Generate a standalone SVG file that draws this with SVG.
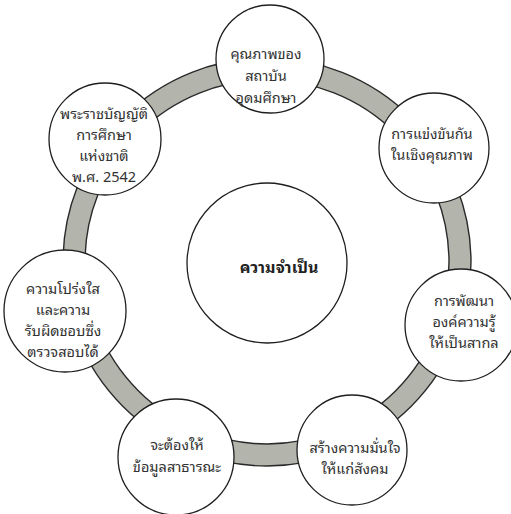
<svg xmlns="http://www.w3.org/2000/svg" width="511" height="514" viewBox="0 0 511 514">
<style>
.band{fill:none;stroke:#b3b5ac;stroke-width:22}
.edge{fill:none;stroke:#2a2a2a;stroke-width:1.4}
.node{fill:#ffffff;stroke:#1e1e1e;stroke-width:1.3}
text{font-family:"Noto Sans Thai Looped","Noto Sans Thai","Noto Sans","DejaVu Sans",sans-serif;font-size:14.5px;fill:#333;text-anchor:middle}
.c{font-weight:bold;font-size:16px;fill:#222}
</style>
<rect width="511" height="514" fill="#ffffff"/>
<g id="connectors">
<circle class="band" cx="267" cy="262" r="193"/>
<circle class="edge" cx="267" cy="262" r="182"/>
<circle class="edge" cx="267" cy="262" r="204"/>
</g>
<g id="center">
<circle class="node" cx="267" cy="263" r="80"/>
<text class="c" x="279" y="273">ความจำเป็น</text>
</g>
<g id="n1">
<circle class="node" cx="270" cy="59" r="54"/>
<text x="266" y="59">คุณภาพของ</text>
<text x="266" y="81">สถาบัน</text>
<text x="266" y="103">อุดมศึกษา</text>
</g>
<g id="n2">
<circle class="node" cx="434" cy="148" r="55"/>
<text x="432" y="139">การแข่งขันกัน</text>
<text x="432" y="160">ในเชิงคุณภาพ</text>
</g>
<g id="n3">
<circle class="node" cx="461" cy="325" r="56"/>
<text x="464" y="306">การพัฒนา</text>
<text x="464" y="327">องค์ความรู้</text>
<text x="464" y="348">ให้เป็นสากล</text>
</g>
<g id="n4">
<circle class="node" cx="352" cy="450" r="55"/>
<text x="355" y="453">สร้างความมั่นใจ</text>
<text x="355" y="474">ให้แก่สังคม</text>
</g>
<g id="n5">
<circle class="node" cx="176" cy="457" r="58"/>
<text x="177" y="450">จะต้องให้</text>
<text x="177" y="472">ข้อมูลสาธารณะ</text>
</g>
<g id="n6">
<circle class="node" cx="65" cy="311" r="61"/>
<text x="63" y="294">ความโปร่งใส</text>
<text x="63" y="315">และความ</text>
<text x="63" y="336">รับผิดชอบซึ่ง</text>
<text x="63" y="357">ตรวจสอบได้</text>
</g>
<g id="n7">
<circle class="node" cx="105" cy="139" r="56"/>
<text x="104" y="119">พระราชบัญญัติ</text>
<text x="104" y="140">การศึกษา</text>
<text x="104" y="161">แห่งชาติ</text>
<text x="104" y="182">พ.ศ. 2542</text>
</g>
</svg>
